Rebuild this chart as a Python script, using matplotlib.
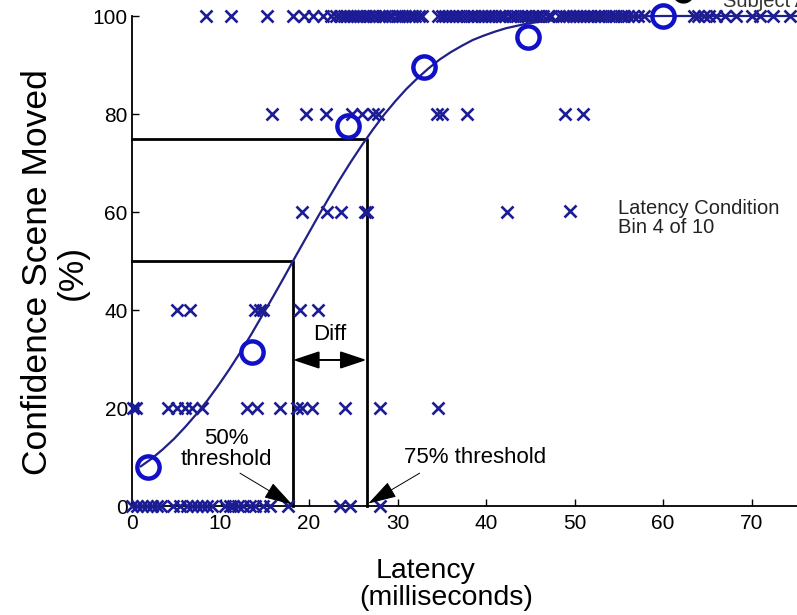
import matplotlib
matplotlib.use("Agg")
import matplotlib.pyplot as plt

# ---------------- data ----------------
conf_levels = [0, 20, 40, 60, 80, 100]

latency_conf0 = [0.0, 0.6, 1.1, 1.7, 2.3, 2.8, 3.3, 4.6, 5.4, 6.2, 6.8, 7.3, 7.9,
                 8.5, 9.0, 10.5, 11.1, 11.4, 12.0, 12.5, 13.3, 13.9, 14.8, 15.6,
                 17.6, 23.5, 24.6, 28.0]
latency_conf20 = [0.1, 0.4, 4.1, 5.1, 6.0, 6.8, 7.9, 13.0, 14.1, 16.7, 18.6, 19.2,
                  20.3, 24.1, 28.0, 34.6]
latency_conf40 = [5.1, 6.6, 13.9, 14.5, 14.8, 19.0, 21.0]
latency_conf60 = [19.2, 22.0, 23.6, 26.3, 26.6, 42.4]
latency_conf80 = [15.8, 19.7, 21.9, 24.9, 26.0, 27.2, 27.8, 34.5, 35.0, 37.8,
                  48.9, 51.0]
latency_conf100 = [8.4, 11.2, 15.3, 18.2, 19.4, 20.5, 21.6, 22.5, 23.1, 23.5, 23.9,
                   24.3, 24.6, 25.0, 25.4, 25.8, 26.1, 26.4, 26.8, 27.2, 27.5, 27.9,
                   28.3, 28.6, 29.0, 29.4, 29.9, 30.2, 30.5, 30.9, 31.3, 31.6, 32.0,
                   32.4, 32.8, 34.6, 35.0, 35.4, 35.8, 36.2, 36.6, 37.0, 37.4, 37.8,
                   38.3, 38.7, 39.1, 39.5, 39.9, 40.2, 40.6, 41.0, 41.5, 41.8, 42.2,
                   42.7, 43.1, 43.5, 44.0, 44.4, 44.8, 45.2, 45.6, 46.0, 46.4, 47.0,
                   47.4, 48.3, 48.7, 49.0, 49.4, 49.8, 50.2, 50.6, 51.0, 51.4, 51.8,
                   52.2, 52.6, 53.0, 53.5, 53.9, 54.3, 54.7, 55.2, 55.6, 56.0, 56.6,
                   57.2, 57.8, 63.5, 64.0, 64.6, 65.2, 66.0, 67.0, 68.3, 70.0, 71.0,
                   72.4, 74.3]

bin_latency = [1.8, 13.6, 24.4, 33.0, 44.7, 60.0]
bin_conf = [8.0, 31.5, 77.5, 89.5, 95.7, 100.0]

curve_latency = [1.0, 2.25, 3.5, 4.75, 6.0, 7.25, 8.5, 9.75, 11.0, 12.25, 13.5,
                 14.75, 16.0, 17.25, 18.5, 19.75, 21.0, 22.25, 23.5, 24.75, 26.0,
                 27.25, 28.5, 29.75, 31.0, 32.25, 33.5, 34.75, 36.0, 37.25, 38.5,
                 39.75, 41.0, 42.25, 43.5, 44.75, 46.0, 47.5, 50.0, 52.5, 55.0,
                 60.0, 65.0, 70.0, 75.0, 80.0]
curve_conf = [8.1, 9.7, 11.6, 13.7, 16.1, 18.7, 21.5, 24.6, 27.9, 31.4, 35.1, 39.0,
              42.9, 46.9, 51.0, 55.0, 59.0, 62.9, 66.7, 70.3, 73.7, 76.9, 79.9,
              82.6, 85.1, 87.3, 89.3, 91.1, 92.6, 93.9, 95.1, 96.0, 96.8, 97.5,
              98.0, 98.5, 98.8, 99.1, 99.5, 99.7, 99.9, 100.0, 100.0, 100.0, 100.0,
              100.0]

thr50_latency = 18.2
thr75_latency = 26.5

x_ticks = [0, 10, 20, 30, 40, 50, 60, 70]
y_ticks = [0, 20, 40, 60, 80, 100]

# ---------------- style ----------------
plt.rcParams["font.family"] = ["Liberation Sans", "DejaVu Sans"]

W, H = 797, 615
fig = plt.figure(figsize=(W / 100, H / 100), dpi=100)
fig.patch.set_facecolor("white")
ax = fig.add_axes([132 / W, 109 / H, 708 / W, 490 / H])
ax.set_xlim(0, 80)
ax.set_ylim(0, 100)

for s in ["top", "right"]:
    ax.spines[s].set_visible(False)
for s in ["left", "bottom"]:
    ax.spines[s].set_linewidth(1.3)
ax.set_xticks(x_ticks)
ax.set_yticks(y_ticks)
ax.tick_params(axis="both", direction="in", length=5, width=1.0, labelsize=15)
ax.tick_params(axis="x", pad=6)
ax.tick_params(axis="y", pad=3)

xcol = "#1c1c96"
rows = [latency_conf0, latency_conf20, latency_conf40, latency_conf60,
        latency_conf80, latency_conf100]
for lvl, lat in zip(conf_levels, rows):
    ax.plot(lat, [lvl] * len(lat), "x", color=xcol, ms=8, mew=1.9, clip_on=False,
            zorder=3)

ax.plot(curve_latency, curve_conf, "-", color="#202088", lw=1.6, clip_on=False,
        zorder=4)
ax.plot(bin_latency, bin_conf, "o", mfc="none", mec="#1010c8", ms=16, mew=3.2,
        clip_on=False, zorder=5)

# threshold lines
ax.plot([0, thr50_latency, thr50_latency], [50, 50, 0], "-", color="k", lw=2.0,
        zorder=2, clip_on=False)
ax.plot([0, thr75_latency, thr75_latency], [75, 75, 0], "-", color="k", lw=2.0,
        zorder=2, clip_on=False)

# Diff double arrow
ax.annotate("", xy=(thr75_latency, 29.8), xytext=(thr50_latency, 29.8),
            arrowprops=dict(arrowstyle="<|-|>,head_length=0.9,head_width=0.3",
                            color="k", lw=1.4, mutation_scale=18,
                            shrinkA=0, shrinkB=0))
ax.text(22.4, 34.9, "Diff", ha="center", va="center", fontsize=16)

# threshold annotations
ax.annotate("", xy=(18.1, 0.3), xytext=(12.2, 6.7),
            arrowprops=dict(arrowstyle="-|>,head_length=1.0,head_width=0.3",
                            color="k", lw=0.7, mutation_scale=18,
                            shrinkA=0, shrinkB=0))
ax.annotate("", xy=(26.7, 0.5), xytext=(32.5, 6.7),
            arrowprops=dict(arrowstyle="-|>,head_length=1.0,head_width=0.3",
                            color="k", lw=0.7, mutation_scale=18,
                            shrinkA=0, shrinkB=0))
ax.text(10.7, 11.6, "50%\nthreshold", ha="center", va="center", fontsize=16,
        linespacing=1.0)
ax.text(38.8, 9.8, "75% threshold", ha="center", va="center", fontsize=16)

# legend-like entries
ax.plot([49.5], [60.2], "x", color=xcol, ms=8, mew=1.9, clip_on=False)
ax.text(54.9, 58.8, "Latency Condition\nBin 4 of 10", ha="left", va="center",
        fontsize=14.5, linespacing=1.0, color="#222222")
ax.plot([62.3], [105.0], "o", color="k", ms=15, clip_on=False)
ax.text(66.8, 101.8, "Subject Average", ha="left", va="baseline", fontsize=14.5,
        color="#333333", clip_on=False)

# axis labels
fig.text(38 / W, 1 - 272 / H, "Confidence Scene Moved", rotation=90, ha="center",
         va="center", fontsize=25.5)
fig.text(72 / W, 1 - 272 / H, "(%)", rotation=90, ha="center", va="center",
         fontsize=25.5)
fig.text(426 / W, 1 - 571 / H, "Latency", ha="center", va="center", fontsize=20.5)
fig.text(446 / W, 1 - 598 / H, "(milliseconds)", ha="center", va="center",
         fontsize=20.5)

fig.savefig("out.png", dpi=100)
